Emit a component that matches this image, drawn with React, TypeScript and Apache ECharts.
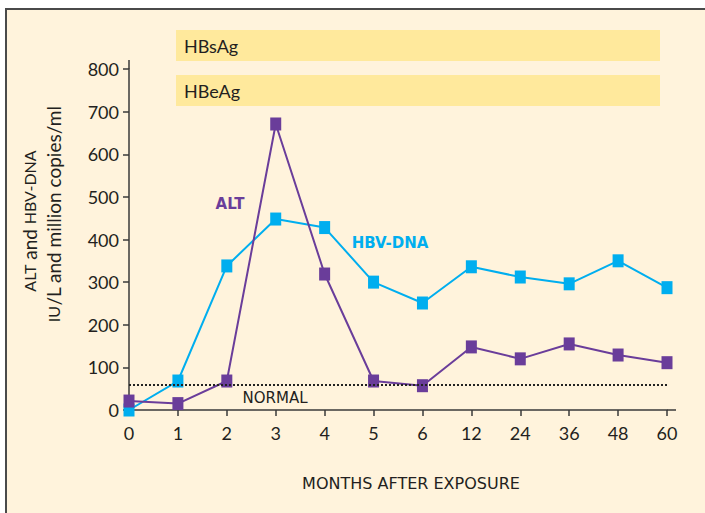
import React, { useEffect, useRef } from "react";
import * as echarts from "echarts";

const months = ["0", "1", "2", "3", "4", "5", "6", "12", "24", "36", "48", "60"];
const hbvDna = [0, 68, 338, 448, 428, 300, 251, 336, 312, 296, 350, 287];
const alt = [21, 15, 68, 671, 319, 68, 57, 148, 120, 155, 129, 111];
const normalLevel = 59;
const yTicks = { min: 0, max: 800, interval: 100 };

const FONT = "Lato";
const TEXT = "#231F20";
const PURPLE = "#6A3D9A";
const CYAN = "#00AEEF";

export default function App() {
  const ref = useRef<HTMLDivElement>(null);
  useEffect(() => {
    if (!ref.current) return;
    const chart = echarts.init(ref.current, null, { renderer: "svg" });
    const baseGraphic: any[] = [
      {
        type: "rect",
        z: -10,
        silent: true,
        shape: { x: 6, y: 9, width: 720, height: 530 },
        style: { fill: "#FFF3DC", stroke: "#4A4A4A", lineWidth: 2 },
      },
      {
        type: "rect",
        z: -5,
        silent: true,
        shape: { x: 176, y: 30, width: 484, height: 31 },
        style: { fill: "#FFE99C" },
      },
      {
        type: "text",
        x: 184,
        y: 46,
        style: { text: "HBsAg", font: `18px ${FONT}`, fill: TEXT, verticalAlign: "middle" },
      },
      {
        type: "rect",
        z: -5,
        silent: true,
        shape: { x: 176, y: 75, width: 484, height: 31 },
        style: { fill: "#FFE99C" },
      },
      {
        type: "text",
        x: 184,
        y: 91,
        style: { text: "HBeAg", font: `18px ${FONT}`, fill: TEXT, verticalAlign: "middle" },
      },
      {
        type: "text",
        x: 29,
        y: 221,
        rotation: Math.PI / 2,
        style: {
          text: "{sc|ALT} and {sc|HBV-DNA}",
          font: `19px ${FONT}`,
          fill: TEXT,
          align: "center",
          verticalAlign: "middle",
          rich: { sc: { fontSize: 16, fontFamily: FONT, fill: TEXT } },
        },
      },
      {
        type: "text",
        x: 53,
        y: 214,
        rotation: Math.PI / 2,
        style: {
          text: "{sc|IU}/L and million copies/ml",
          font: `19px ${FONT}`,
          fill: TEXT,
          align: "center",
          verticalAlign: "middle",
          rich: { sc: { fontSize: 16, fontFamily: FONT, fill: TEXT } },
        },
      },
      {
        type: "text",
        x: 230,
        y: 204,
        style: {
          text: "ALT",
          font: `bold 15px 'DejaVu Sans'`,
          fill: PURPLE,
          align: "center",
          verticalAlign: "middle",
        },
      },
      {
        type: "text",
        x: 390,
        y: 243,
        style: {
          text: "HBV-DNA",
          font: `bold 15px 'DejaVu Sans'`,
          fill: CYAN,
          align: "center",
          verticalAlign: "middle",
        },
      },
      {
        type: "text",
        x: 275,
        y: 398,
        style: {
          text: "NORMAL",
          font: `15px 'DejaVu Sans'`,
          fill: TEXT,
          align: "center",
          verticalAlign: "middle",
        },
      },
      {
        type: "text",
        x: 411,
        y: 483,
        style: {
          text: "MONTHS AFTER EXPOSURE",
          font: `16px 'DejaVu Sans'`,
          fill: TEXT,
          align: "center",
          verticalAlign: "middle",
        },
      },
    ];
    const option: any = {
      animation: false,
      backgroundColor: "#FFFFFF",
      grid: { left: 129, right: 38, top: 69, bottom: 103 },
      xAxis: {
        type: "category",
        data: months,
        boundaryGap: false,
        axisLine: { lineStyle: { color: "#3A3A3A", width: 1.5 } },
        axisTick: { length: 6, lineStyle: { color: "#3A3A3A", width: 1.5 } },
        axisLabel: { color: TEXT, fontSize: 18, fontFamily: FONT, margin: 14 },
        splitLine: { show: false },
      },
      yAxis: {
        type: "value",
        min: yTicks.min,
        max: yTicks.max,
        interval: yTicks.interval,
        axisLine: { show: true, lineStyle: { color: "#3A3A3A", width: 1.5 } },
        axisTick: { show: true, length: 6, lineStyle: { color: "#3A3A3A", width: 1.5 } },
        axisLabel: { color: TEXT, fontSize: 18, fontFamily: FONT, margin: 10 },
        splitLine: { show: false },
      },
      graphic: baseGraphic,
      series: [
        {
          name: "HBV-DNA",
          type: "line",
          data: hbvDna,
          symbol: "rect",
          symbolSize: [11, 13],
          showAllSymbol: true,
          lineStyle: { color: CYAN, width: 2 },
          itemStyle: { color: CYAN },
          z: 3,
          markLine: {
            silent: true,
            symbol: "none",
            label: { show: false },
            lineStyle: { color: "#222", type: "dotted", width: 2 },
            data: [{ yAxis: normalLevel }],
          },
        },
        {
          name: "ALT",
          type: "line",
          data: alt,
          symbol: "rect",
          symbolSize: [11, 13],
          showAllSymbol: true,
          lineStyle: { color: PURPLE, width: 2 },
          itemStyle: { color: PURPLE },
          z: 4,
        },
      ],
    };
    chart.setOption(option);
    const origin = chart.convertToPixel({ gridIndex: 0 }, [0, 0]) as number[];
    const top = chart.convertToPixel({ gridIndex: 0 }, [0, yTicks.max]) as number[];
    const right = chart.convertToPixel({ gridIndex: 0 }, [months.length - 1, 0]) as number[];
    chart.setOption({
      graphic: [
        ...baseGraphic,
        {
          type: "line",
          shape: { x1: origin[0], y1: top[1], x2: origin[0], y2: top[1] - 9 },
          style: { stroke: "#3A3A3A", lineWidth: 1.5 },
        },
        {
          type: "line",
          shape: { x1: right[0], y1: origin[1], x2: right[0] + 9, y2: origin[1] },
          style: { stroke: "#3A3A3A", lineWidth: 1.5 },
        },
      ],
    });
    return () => chart.dispose();
  }, []);
  return (
    <div
      ref={ref}
      style={{ position: "fixed", left: 0, top: 0, width: 705, height: 513 }}
    />
  );
}
